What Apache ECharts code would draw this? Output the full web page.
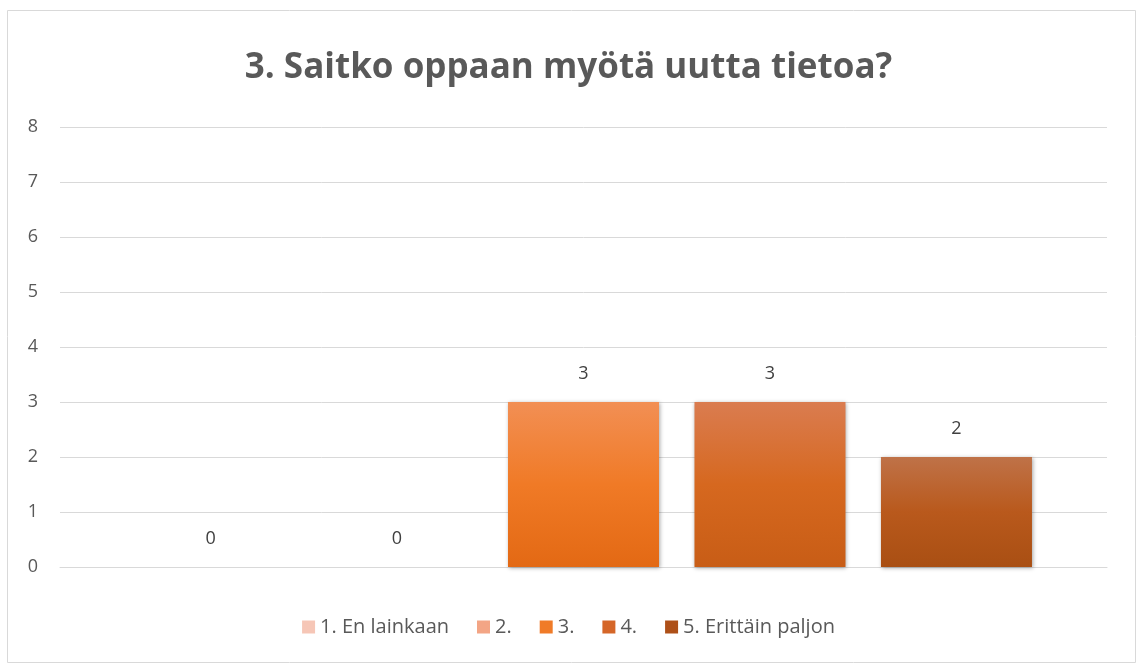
<!DOCTYPE html>
<html><head><meta charset="utf-8">
<script src="https://cdn.jsdelivr.net/npm/echarts@6/dist/echarts.min.js"></script>
<style>html,body{margin:0;padding:0;background:#fff}#c{width:1137px;height:664px}</style>
</head><body><div id="c"></div>
<script>
const title = '3. Saitko oppaan myötä uutta tietoa?';
const seriesNames = ['1. En lainkaan', '2.', '3.', '4.', '5. Erittäin paljon'];
const seriesValues = [0, 0, 3, 3, 2];
const yTicks = [0, 1, 2, 3, 4, 5, 6, 7, 8];
const topColors = ['#F8D3C6', '#F5B89D', '#F28F54', '#DA7C50', '#BF7248'];
const midColors = ['#F6C6B6', '#F3A585', '#F07A26', '#D6681F', '#B9591C'];
const bottomColors = ['#F4BCA8', '#F19C78', '#E36914', '#C85D16', '#A94F13'];
const legendColors = ['#F6C6B6', '#F3A585', '#F07B28', '#D56628', '#AE5018'];

const chart = echarts.init(document.getElementById('c'));
const font = "'Open Sans', sans-serif";
chart.setOption({
  animation: false,
  graphic: [{type: 'rect', shape: {x: 7.5, y: 10.5, width: 1128, height: 652}, style: {fill: 'none', stroke: '#d9d9d9', lineWidth: 1}, silent: true}],
  title: {text: title, left: 'center', top: 46, textStyle: {fontFamily: font, fontWeight: 'bold', fontSize: 35, color: '#595959'}},
  legend: {
    bottom: 22, left: 'center', itemWidth: 13, itemHeight: 13, itemGap: 28,
    icon: 'rect',
    textStyle: {fontFamily: font, fontSize: 20, color: '#595959'},
    data: seriesNames.map((n, i) => ({name: n, itemStyle: {color: legendColors[i]}}))
  },
  grid: {left: 60, right: 30, top: 127, bottom: 97},
  xAxis: {type: 'category', data: [''], axisLine: {show: true, lineStyle: {color: '#d9d9d9', width: 1}}, axisTick: {show: false}, axisLabel: {show: false}},
  yAxis: {type: 'value', min: yTicks[0], max: yTicks[yTicks.length - 1], interval: 1,
    axisLine: {show: false}, axisTick: {show: false},
    axisLabel: {fontFamily: font, fontSize: 18, color: '#595959', margin: 22},
    splitLine: {lineStyle: {color: '#d9d9d9', width: 1}}},
  series: seriesNames.map((n, i) => ({
    name: n, type: 'bar', data: [seriesValues[i]], barWidth: 151, barGap: '23.5%',
    itemStyle: {
      color: new echarts.graphic.LinearGradient(0, 0, 0, 1, [{offset: 0, color: topColors[i]}, {offset: 0.5, color: midColors[i]}, {offset: 1, color: bottomColors[i]}]),
      shadowBlur: 4, shadowColor: 'rgba(0,0,0,0.35)', shadowOffsetX: 1, shadowOffsetY: 1
    },
    label: {show: true, position: 'top', distance: 19, fontFamily: font, fontSize: 18, color: '#404040'}
  }))
});
</script></body></html>
